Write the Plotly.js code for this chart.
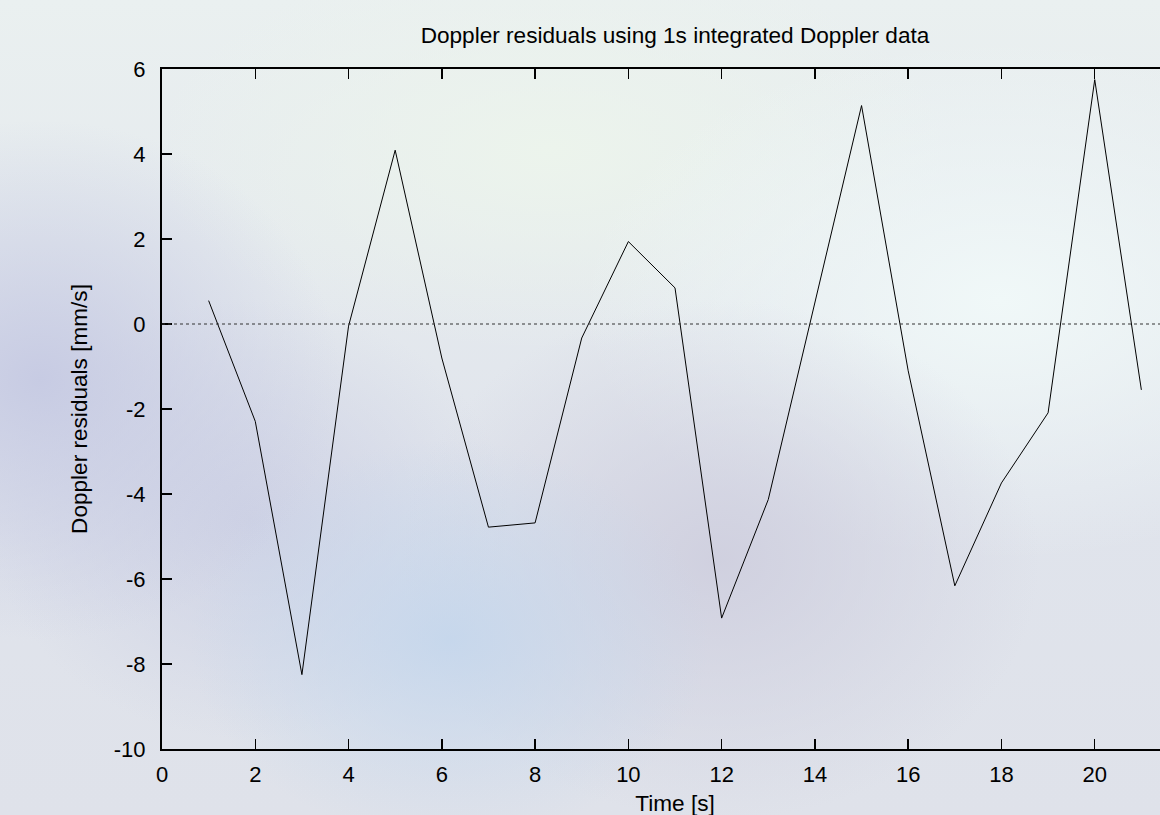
<!DOCTYPE html>
<html>
<head>
<meta charset="utf-8">
<script src="https://cdn.plot.ly/plotly-3.0.1.min.js"></script>
<style>
html, body { margin:0; padding:0; width:1160px; height:815px; overflow:hidden; }
body {
  background:
    radial-gradient(ellipse 300px 260px at 40px 380px, rgba(196,200,226,0.9), rgba(196,200,226,0) 100%),
    radial-gradient(ellipse 260px 200px at 450px 640px, rgba(196,214,236,0.9), rgba(196,214,236,0) 100%),
    radial-gradient(ellipse 320px 260px at 720px 560px, rgba(206,206,222,0.9), rgba(206,206,222,0) 100%),
    radial-gradient(ellipse 260px 220px at 250px 520px, rgba(204,208,228,0.9), rgba(204,208,228,0) 100%),
    radial-gradient(ellipse 420px 260px at 1000px 300px, rgba(240,248,248,1), rgba(240,248,248,0) 100%),
    radial-gradient(ellipse 400px 200px at 550px 150px, rgba(236,244,236,1), rgba(236,244,236,0) 100%),
    linear-gradient(180deg, #eaf0f0 0%, #e0e4ec 60%, #dfe2ea 100%);
}
#chart { width:1230px; height:835px; }
</style>
</head>
<body>
<div id="chart"></div>
<script>
const timeS = [1,2,3,4,5,6,7,8,9,10,11,12,13,14,15,16,17,18,19,20,21];
const residualsMmS = [0.55,-2.29,-8.25,-0.05,4.09,-0.8,-4.78,-4.68,-0.33,1.94,0.85,-6.92,-4.13,0.5,5.14,-1.1,-6.16,-3.74,-2.09,5.75,-1.55];
const xTicks = [0,2,4,6,8,10,12,14,16,18,20];
const yTicks = [-10,-8,-6,-4,-2,0,2,4,6];

const fam = '"Liberation Sans", Arial, sans-serif';
const tickFont = {family:fam, size:22, color:'#000'};
const titleFont = {family:fam, size:22.6, color:'#000'};

const traces = [{
  x: timeS, y: residualsMmS, type:'scatter', mode:'lines',
  line:{color:'#000', width:1}, showlegend:false, hoverinfo:'x+y'
}];

const layout = {
  width:1230, height:835,
  margin:{l:162, r:42, t:69, b:86, pad:0},
  paper_bgcolor:'rgba(0,0,0,0)', plot_bgcolor:'rgba(0,0,0,0)',
  font: tickFont,
  title:{text:'Doppler residuals using 1s integrated Doppler data', font:titleFont,
         x:0.5, xref:'paper', y:1-35/835, yref:'container', yanchor:'middle'},
  xaxis:{range:[0,22], tickvals:xTicks, ticktext:xTicks.map(String),
         showline:true, linecolor:'#000', linewidth:2, mirror:'ticks',
         ticks:'inside', ticklen:10, tickwidth:1.5, tickcolor:'#000',
         showgrid:false, zeroline:false, ticklabelstandoff:5,
         title:{text:'Time [s]', font:titleFont, standoff:9}, tickfont:tickFont},
  yaxis:{range:[-10,6], tickvals:yTicks, ticktext:yTicks.map(String),
         showline:true, linecolor:'#000', linewidth:2, mirror:'ticks',
         ticks:'inside', ticklen:10, tickwidth:1.5, tickcolor:'#000',
         showgrid:false, zeroline:false, ticklabelstandoff:10,
         title:{text:'Doppler residuals [mm/s]', font:titleFont, standoff:20}, tickfont:tickFont},
  shapes:[{type:'line', xref:'paper', x0:0, x1:1, yref:'y', y0:0, y1:0,
           line:{color:'#333', width:1, dash:'dot'}}]
};

Plotly.newPlot('chart', traces, layout, {displayModeBar:false, staticPlot:true});
</script>
</body>
</html>
